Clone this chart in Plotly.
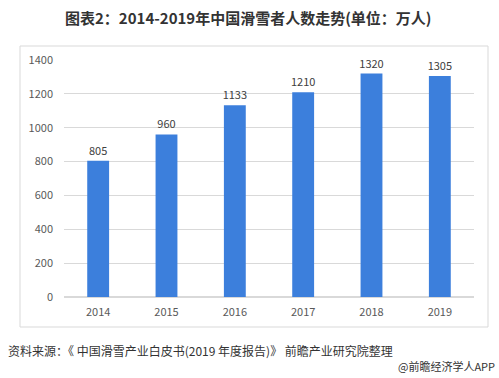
import plotly.graph_objects as go

years = ["2014", "2015", "2016", "2017", "2018", "2019"]
skiers = [805, 960, 1133, 1210, 1320, 1305]
y_ticks = [0, 200, 400, 600, 800, 1000, 1200, 1400]

title_text = "图表2：2014-2019年中国滑雪者人数走势(单位：万人)"
source_text = "资料来源：《 中国滑雪产业白皮书(2019 年度报告)》 前瞻产业研究院整理"
credit_text = "@前瞻经济学人APP"

FONT = "Noto Sans CJK SC, Microsoft YaHei, sans-serif"

fig = go.Figure(
    go.Bar(
        x=years,
        y=skiers,
        marker=dict(color="#3C7FDC", line=dict(width=0)),
        text=[str(v) for v in skiers],
        textposition="outside",
        constraintext="none",
        textfont=dict(size=11, color="#404040", family=FONT),
        cliponaxis=False,
        hoverinfo="skip",
    )
)

fig.update_layout(
    width=499,
    height=378,
    margin=dict(l=64, r=25, t=60, b=81),
    paper_bgcolor="white",
    plot_bgcolor="white",
    bargap=0.68,
    showlegend=False,
    font=dict(family=FONT, color="#595959"),
    xaxis=dict(
        type="category",
        showgrid=False,
        showline=False,
        ticks="",
        ticklabelstandoff=7,
        tickfont=dict(size=11, color="#595959"),
    ),
    yaxis=dict(
        range=[0, 1400],
        tickvals=y_ticks,
        showgrid=True,
        gridcolor="#D9D9D9",
        gridwidth=1,
        zeroline=True,
        zerolinecolor="#D9D9D9",
        showline=False,
        ticks="",
        ticklabelstandoff=10,
        tickfont=dict(size=11, color="#595959"),
    ),
    shapes=[
        dict(
            type="rect", xref="paper", yref="paper",
            x0=-44 / 410, x1=(488 - 64) / 410,
            y0=(297 - 327) / 237, y1=(297 - 46) / 237,
            line=dict(color="#D9D9D9", width=1),
            fillcolor="rgba(0,0,0,0)",
            layer="below",
        )
    ],
    annotations=[
        dict(
            text=f"<b>{title_text}</b>",
            xref="paper", yref="paper",
            x=(248 - 64) / 410, y=(297 - 17) / 237,
            xanchor="center", yanchor="middle",
            showarrow=False,
            font=dict(size=15, color="#333333", family=FONT),
        ),
        dict(
            text=source_text,
            xref="paper", yref="paper",
            x=(6 - 64) / 410, y=(297 - 350) / 237,
            xanchor="left", yanchor="middle",
            showarrow=False,
            font=dict(size=12, color="#333333", family=FONT),
        ),
        dict(
            text=credit_text,
            xref="paper", yref="paper",
            x=(497 - 64) / 410, y=(297 - 366) / 237,
            xanchor="right", yanchor="middle",
            showarrow=False,
            font=dict(size=11, color="#333333", family=FONT),
        ),
    ],
)

fig.write_html(
    "out.html",
    config={"displayModeBar": False},
    post_script="document.body.style.margin='0';document.body.style.padding='0';",
)
